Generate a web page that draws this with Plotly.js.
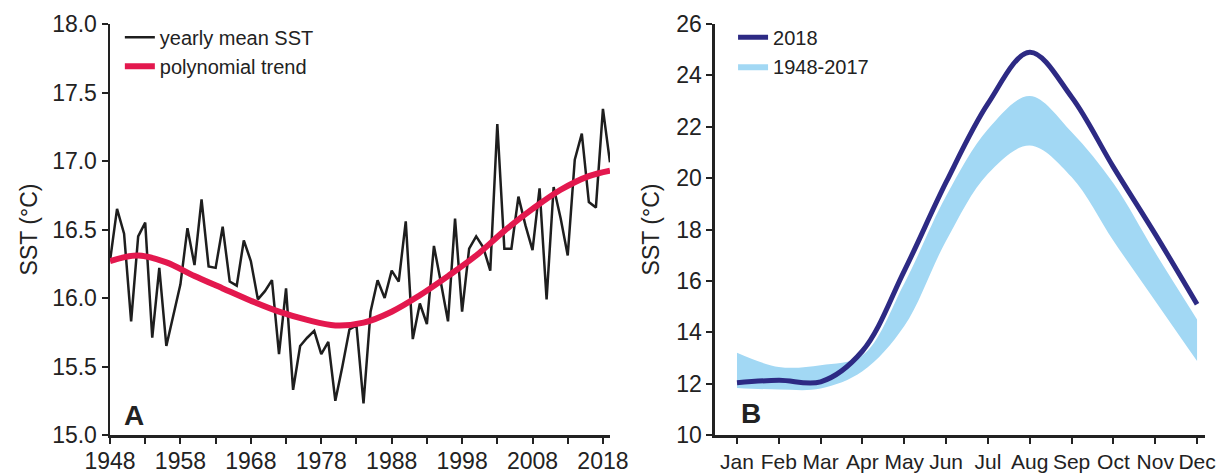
<!DOCTYPE html>
<html>
<head>
<meta charset="utf-8">
<script src="https://cdn.plot.ly/plotly-3.0.1.min.js"></script>
<style>html,body{margin:0;padding:0;background:#fff}#chart{width:1225px;height:475px}</style>
</head>
<body>
<div id="chart"></div>
<script>
// Panel A: yearly mean SST
const years = [1948,1949,1950,1951,1952,1953,1954,1955,1956,1957,1958,1959,1960,1961,1962,1963,1964,1965,1966,1967,
1968,1969,1970,1971,1972,1973,1974,1975,1976,1977,1978,1979,1980,1981,1982,1983,1984,1985,1986,1987,
1988,1989,1990,1991,1992,1993,1994,1995,1996,1997,1998,1999,2000,2001,2002,2003,2004,2005,2006,2007,
2008,2009,2010,2011,2012,2013,2014,2015,2016,2017,2018,2019];
const yearlySST = [16.27,16.65,16.47,15.83,16.45,16.55,15.71,16.22,15.65,15.88,16.10,16.51,16.24,16.72,16.23,16.22,16.52,16.12,16.09,16.42,
16.27,15.99,16.05,16.13,15.59,16.07,15.33,15.65,15.71,15.76,15.59,15.68,15.25,15.50,15.77,15.80,15.23,15.90,16.13,16.00,
16.20,16.12,16.56,15.70,15.96,15.81,16.38,16.11,15.83,16.58,15.90,16.36,16.45,16.37,16.20,17.27,16.36,16.36,16.74,16.53,
16.35,16.80,15.99,16.81,16.58,16.31,17.01,17.20,16.70,16.66,17.38,16.99];
const trendYears = [1948,1952,1956,1960,1964,1968,1972,1976,1980,1984,1988,1992,1996,2000,2004,2008,2012,2016,2019];
const trendSST = [16.27,16.31,16.26,16.16,16.07,15.98,15.90,15.84,15.80,15.82,15.90,16.02,16.16,16.31,16.49,16.65,16.79,16.89,16.93];
const yearTicks = [1948,1953,1958,1963,1968,1973,1978,1983,1988,1993,1998,2003,2008,2013,2018];
const yearTickText = ['1948','','1958','','1968','','1978','','1988','','1998','','2008','','2018'];
const sstTicksA = [15.0,15.5,16.0,16.5,17.0,17.5,18.0];

// Panel B: monthly SST
const months = ['Jan','Feb','Mar','Apr','May','Jun','Jul','Aug','Sep','Oct','Nov','Dec'];
const sst2018 = [12.03,12.13,12.07,13.27,16.39,19.84,22.90,24.90,23.16,20.43,17.82,15.09];
const bandUpper = [13.20,12.65,12.72,13.10,15.90,19.30,21.90,23.20,21.80,19.80,17.10,14.50];
const bandLower = [11.83,11.77,11.81,12.48,14.24,17.56,20.17,21.27,20.04,17.56,15.22,12.88];

const FAM = 'Liberation Sans, Arial, Helvetica, sans-serif';
const tickFont = {family:FAM, size:23, color:'#222'};
const monthFont = {family:FAM, size:21, color:'#222'};
const titleFont = {family:FAM, size:23, color:'#222'};
const legFont = {family:FAM, size:20, color:'#222'};

const traces = [
  {x: years, y: yearlySST, type:'scatter', mode:'lines', name:'yearly mean SST',
   line:{color:'#1e1e1e', width:2.5}, xaxis:'x', yaxis:'y', legend:'legend', cliponaxis:false},
  {x: trendYears, y: trendSST, type:'scatter', mode:'lines', name:'polynomial trend',
   line:{color:'#e3184e', width:6, shape:'spline', smoothing:1}, xaxis:'x', yaxis:'y', legend:'legend', cliponaxis:false},
  {x: months, y: bandLower, type:'scatter', mode:'lines', name:'lower', showlegend:false,
   line:{color:'rgba(0,0,0,0)', width:0, shape:'spline'}, xaxis:'x2', yaxis:'y2', hoverinfo:'skip'},
  {x: months, y: bandUpper, type:'scatter', mode:'lines', name:'1948-2017', fill:'tonexty',
   fillcolor:'#a2d8f4', line:{color:'rgba(0,0,0,0)', width:0, shape:'spline'}, xaxis:'x2', yaxis:'y2',
   legend:'legend2'},
  {x: months, y: sst2018, type:'scatter', mode:'lines', name:'2018',
   line:{color:'#2d2a84', width:5, shape:'spline'}, xaxis:'x2', yaxis:'y2', legend:'legend2', cliponaxis:false}
];

const axisCommon = {showgrid:false, zeroline:false, showline:true, linecolor:'#222', linewidth:2.5,
  ticks:'outside', ticklen:6, tickwidth:2, tickcolor:'#222', tickfont:tickFont, tickangle:0};

const layout = {
  width:1225, height:475,
  margin:{l:110, r:20, t:24, b:40},
  paper_bgcolor:'#fff', plot_bgcolor:'#fff',
  showlegend:true,
  xaxis: Object.assign({}, axisCommon, {domain:[0,0.4566], range:[1948,2019], tickvals:yearTicks, ticktext:yearTickText, anchor:'y', ticklabelstandoff:-2}),
  yaxis: Object.assign({}, axisCommon, {domain:[0,1], range:[15,18], tickvals:sstTicksA, tickformat:'.1f', anchor:'x',
    title:{text:'SST (°C)', font:titleFont, standoff:8}}),
  xaxis2: Object.assign({}, axisCommon, {domain:[0.5525,1], type:'category', range:[-0.526,11.19], anchor:'y2', tickfont:monthFont, ticklabelstandoff:0}),
  yaxis2: Object.assign({}, axisCommon, {domain:[0,1], range:[10,26], dtick:2, anchor:'x2',
    title:{text:'SST (°C)', font:titleFont, standoff:10}}),
  legend:{x:0.009, y:1.015, xanchor:'left', yanchor:'top', font:legFont, bgcolor:'rgba(0,0,0,0)', itemwidth:30, tracegroupgap:0},
  legend2:{x:0.569, y:1.015, xanchor:'left', yanchor:'top', font:legFont, bgcolor:'rgba(0,0,0,0)', itemwidth:30, tracegroupgap:0, traceorder:'reversed'},
  annotations:[
    {text:'<b>A</b>', xref:'x domain', yref:'y domain', x:0.048, y:0.048, xanchor:'center', yanchor:'middle', showarrow:false,
     font:{family:FAM, size:28, color:'#222'}},
    {text:'<b>B</b>', xref:'x2 domain', yref:'y2 domain', x:0.073, y:0.052, xanchor:'center', yanchor:'middle', showarrow:false,
     font:{family:FAM, size:28, color:'#222'}}
  ]
};

Plotly.newPlot('chart', traces, layout, {displayModeBar:false, staticPlot:true});
</script>
</body>
</html>
